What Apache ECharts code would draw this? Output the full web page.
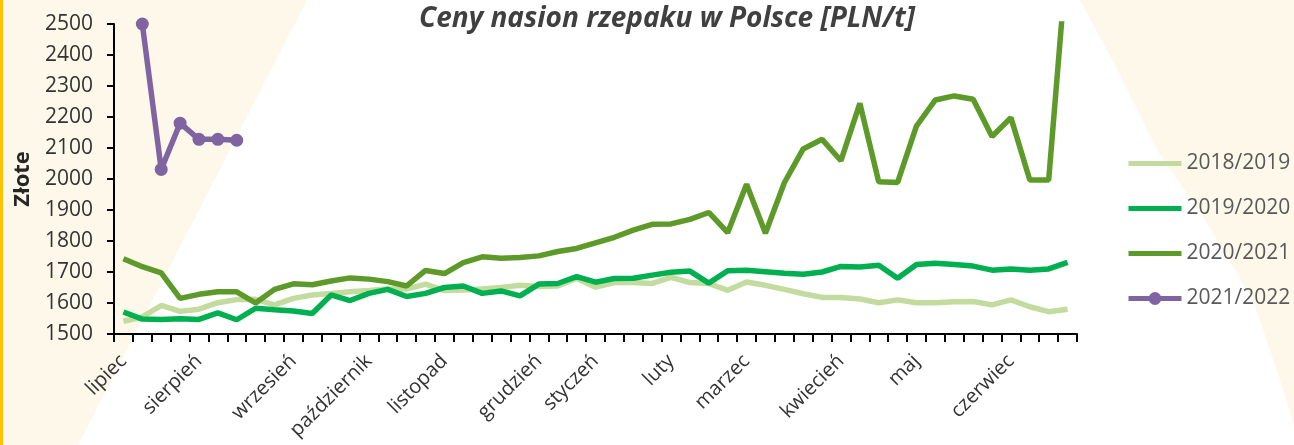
<!DOCTYPE html>
<html>
<head>
<meta charset="utf-8">
<script src="https://cdn.jsdelivr.net/npm/echarts@6/dist/echarts.min.js"></script>
<style>
html,body{margin:0;padding:0;background:#fff;}
#chart{width:1294px;height:445px;}
</style>
</head>
<body>
<div id="chart"></div>
<script>
// Weekly categories (marketing year, July -> June)
const weeks = ['1','2','3','4','5','6','7','8','9','10','11','12','13','14','15','16','17','18','19','20',
  '21','22','23','24','25','26','27','28','29','30','31','32','33','34','35','36','37','38','39','40',
  '41','42','43','44','45','46','47','48','49','50','51'];
// Month tick labels and the week index where each is shown
const monthLabels = ['lipiec','sierpień','wrzesień','październik','listopad','grudzień','styczeń','luty','marzec','kwiecień','maj','czerwiec'];
const monthTickIdx = [0,4,9,13,17,22,25,29,33,38,42,47];

const yTicks = [1500,1600,1700,1800,1900,2000,2100,2200,2300,2400,2500];

const s2018 = [1541,1555,1592,1573,1580,1601,1611,1612,1594,1615,1626,1631,1636,1640,1645,1645,1661,1640,1642,1645,
  1650,1657,1653,1655,1680,1651,1666,1666,1663,1683,1666,1663,1641,1668,1657,1644,1630,1618,1618,1613,
  1601,1610,1601,1601,1604,1605,1594,1610,1588,1572,1580];
const s2019 = [1571,1548,1547,1549,1547,1568,1546,1583,1578,1574,1566,1626,1608,1631,1644,1621,1631,1650,1655,1631,
  1639,1623,1661,1663,1685,1667,1679,1680,1690,1699,1703,1664,1704,1706,1701,1696,1693,1700,1718,1716,
  1722,1680,1724,1728,1724,1719,1706,1710,1706,1710,1731];
const s2020 = [1743,1717,1697,1615,1628,1636,1636,1600,1644,1662,1659,1671,1681,1677,1669,1655,1705,1695,1730,1749,
  1744,1747,1752,1766,1776,1794,1812,1835,1854,1855,1870,1892,1827,1983,1825,1988,2097,2128,2059,2244,
  1991,1989,2171,2255,2268,2257,2137,2198,1997,1997,2740];
const s2021 = [null,2500,2031,2180,2128,2128,2125];

const seriesNames = ['2018/2019','2019/2020','2020/2021','2021/2022'];
const seriesColors = ['#C4DBA0','#00B050','#5E9A2A','#8064A2'];

const chart = echarts.init(document.getElementById('chart'), null, {renderer:'canvas'});
const FONT = '"Open Sans","Noto Sans",sans-serif';
const noMarker = {color:'rgba(0,0,0,0)', opacity:0, borderWidth:0};

const option = {
  animation: false,
  backgroundColor: '#ffffff',
  textStyle: {fontFamily: FONT},
  graphic: {
    elements: [
      {type:'polygon', z:-20, silent:true,
        shape:{points:[[0,0],[307,0],[78,445],[0,445]]},
        style:{fill:'#FDF8EA'}},
      {type:'polygon', z:-20, silent:true,
        shape:{points:[[1080,0],[1294,0],[1294,425],[1280,380],[1253,300],[1205,220],[1157,150],[1115,65]]},
        style:{fill:'#FDF8EA'}},
      {type:'rect', z:-10, silent:true,
        shape:{x:0,y:0,width:3,height:445},
        style:{fill:'#FFC000'}}
    ]
  },
  title: {
    text: 'Ceny nasion rzepaku w Polsce [PLN/t]',
    left: 414,
    top: 0,
    textStyle: {fontFamily: FONT, fontSize: 28, fontWeight: 'bold', fontStyle: 'italic', color: '#404040'}
  },
  legend: {
    orient: 'vertical',
    left: 1126,
    top: 151,
    padding: 0,
    itemWidth: 53,
    itemHeight: 16,
    itemGap: 20,
    lineStyle: {width: 5},
    data: [
      {name: seriesNames[0], itemStyle: noMarker},
      {name: seriesNames[1], itemStyle: noMarker},
      {name: seriesNames[2], itemStyle: noMarker},
      {name: seriesNames[3]}
    ],
    textStyle: {fontFamily: FONT, fontSize: 21, color: '#595959', lineHeight: 25}
  },
  grid: {left: 114, right: 217, top: 24, bottom: 111, containLabel: false},
  xAxis: {
    type: 'category',
    data: weeks,
    boundaryGap: true,
    axisLine: {show: true, lineStyle: {color: '#000', width: 2}},
    axisTick: {show: true, interval: 0, length: 8, lineStyle: {color: '#000', width: 2}},
    axisLabel: {
      interval: 0, rotate: 45, margin: 24, fontSize: 20, color: '#333', fontFamily: FONT,
      formatter: function (v, i) { const m = monthTickIdx.indexOf(i); return m >= 0 ? monthLabels[m] : ''; }
    },
    splitLine: {show: false}
  },
  yAxis: {
    type: 'value',
    min: yTicks[0], max: yTicks[yTicks.length - 1], interval: 100,
    name: 'Złote', nameLocation: 'middle', nameGap: 79,
    nameTextStyle: {fontFamily: FONT, fontSize: 22, fontWeight: 'bold', color: '#262626'},
    axisLine: {show: true, lineStyle: {color: '#000', width: 2}},
    axisTick: {show: true, length: 7, lineStyle: {color: '#000', width: 2}},
    axisLabel: {fontSize: 21, color: '#333', margin: 21, fontFamily: FONT,
      formatter: function (v) { return String(v); }},
    splitLine: {show: false}
  },
  series: [
    {name: seriesNames[0], type: 'line', data: s2018, symbol: 'none', clip: true,
      lineStyle: {color: seriesColors[0], width: 5.5}, itemStyle: {color: seriesColors[0]}, z: 2},
    {name: seriesNames[1], type: 'line', data: s2019, symbol: 'none', clip: true,
      lineStyle: {color: seriesColors[1], width: 5.5}, itemStyle: {color: seriesColors[1]}, z: 3},
    {name: seriesNames[2], type: 'line', data: s2020, symbol: 'none', clip: true,
      lineStyle: {color: seriesColors[2], width: 5.5}, itemStyle: {color: seriesColors[2]}, z: 4},
    {name: seriesNames[3], type: 'line', data: s2021, symbol: 'circle', symbolSize: 13, clip: false,
      connectNulls: false,
      lineStyle: {color: seriesColors[3], width: 5.5}, itemStyle: {color: seriesColors[3]}, z: 5}
  ]
};
chart.setOption(option);
</script>
</body>
</html>
